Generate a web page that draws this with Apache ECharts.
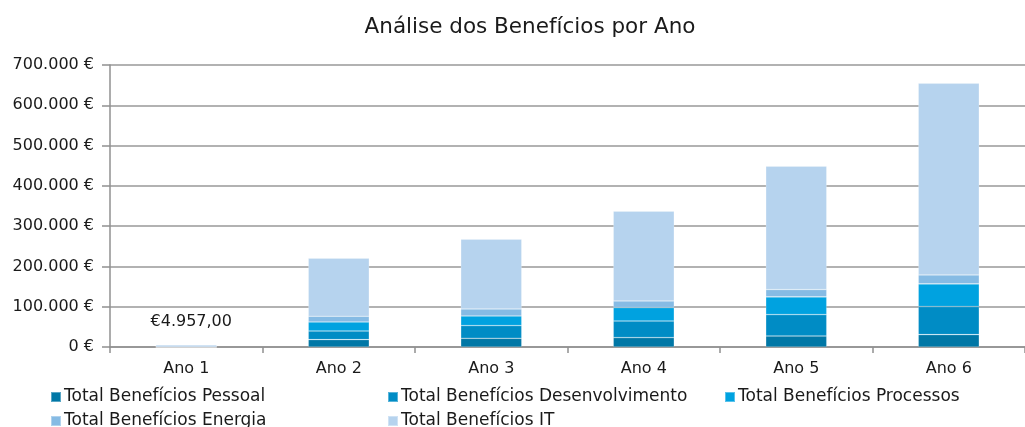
<!DOCTYPE html>
<html>
<head>
<meta charset="utf-8">
<script src="https://cdn.jsdelivr.net/npm/echarts@6/dist/echarts.min.js"></script>
<style>
html,body{margin:0;padding:0;background:#fff;}
#c{width:1025px;height:427px;}
</style>
</head>
<body>
<div id="c"></div>
<script>
const categories = ['Ano 1','Ano 2','Ano 3','Ano 4','Ano 5','Ano 6'];
const pessoal = [0, 18400, 21600, 23400, 27300, 30800];
const desenvolvimento = [0, 21400, 31600, 41200, 53200, 69600];
const processos = [0, 22300, 23800, 33300, 43800, 56200];
const energia = [0, 14200, 17400, 16400, 18300, 22300];
const it = [4957, 144000, 173200, 222900, 306400, 475700];
const seriesNames = ['Total Benefícios Pessoal','Total Benefícios Desenvolvimento','Total Benefícios Processos','Total Benefícios Energia','Total Benefícios IT'];
const colors = ['#0077a6','#008cc5','#00a2e0','#86bbe4','#b6d3ee'];
const yTicks = [0,100000,200000,300000,400000,500000,600000,700000];

const font = '"DejaVu Sans", "Liberation Sans", Arial, sans-serif';
function fmtThousands(v){
  return String(Math.round(v)).replace(/\B(?=(\d{3})+(?!\d))/g,'.');
}
const dataSets = [pessoal, desenvolvimento, processos, energia, it];
const series = dataSets.map((d,i)=>({
  name: seriesNames[i],
  type: 'bar',
  stack: 'total',
  barCategoryGap: '60%',
  itemStyle: {color: colors[i], borderColor: 'rgba(255,255,255,0.35)', borderWidth: 0.6},
  emphasis: {disabled: true},
  data: d.map((v,j)=>{
    if (i === 4 && j === 0) {
      return {value: v, label: {show: true, position: 'top', distance: 15, offset: [5,0],
        color: '#1a1a1a', fontSize: 16, fontFamily: font,
        formatter: p => '€' + fmtThousands(Math.floor(p.value)) + ',' + String(Math.round((p.value % 1)*100)).padStart(2,'0')}};
    }
    return v;
  })
}));

// legend placement: one legend component per item, in two rows of columns
const legendPos = [[50,388],[387,388],[724,388],[50,412],[387,412]];
const legends = seriesNames.map((n,i)=>({
  data: [n], left: legendPos[i][0], top: legendPos[i][1], padding: 0,
  itemWidth: 10, itemHeight: 10, icon: 'rect',
  textStyle: {fontFamily: font, fontSize: 17, color: '#1a1a1a', lineHeight: 18, padding: [0,0,0,-2]}
}));

const chart = echarts.init(document.getElementById('c'), null, {renderer:'canvas'});
chart.setOption({
  animation: false,
  backgroundColor: '#ffffff',
  title: {
    text: 'Análise dos Benefícios por Ano',
    left: 525, top: 11, textAlign: 'center',
    textStyle: {fontFamily: font, fontSize: 21.5, fontWeight: 'normal', color: '#1a1a1a'}
  },
  grid: {left: 110, top: 65, width: 927, height: 282, containLabel: false},
  legend: legends,
  xAxis: {
    type: 'category',
    data: categories,
    axisLine: {lineStyle: {color: '#909090', width: 1.5}},
    axisTick: {show: true, length: 6, lineStyle: {color: '#909090', width: 1.5}},
    axisLabel: {fontFamily: font, fontSize: 16, color: '#1a1a1a', margin: 14}
  },
  yAxis: {
    type: 'value',
    min: yTicks[0], max: yTicks[yTicks.length-1], interval: yTicks[1]-yTicks[0],
    axisLine: {show: true, lineStyle: {color: '#909090', width: 1.5}},
    axisTick: {show: true, length: 8, lineStyle: {color: '#909090', width: 1.5}},
    splitLine: {lineStyle: {color: '#999999', width: 1.5}},
    axisLabel: {fontFamily: font, fontSize: 16, color: '#1a1a1a', margin: 16,
      formatter: v => fmtThousands(v) + ' €'}
  },
  series: series
});
</script>
</body>
</html>
